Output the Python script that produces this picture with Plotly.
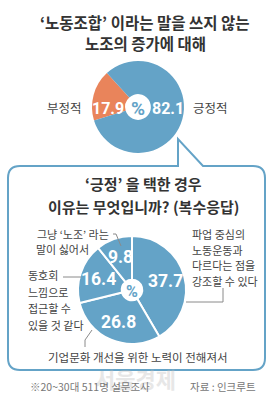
import math
import plotly.graph_objects as go

W, H = 273, 400

# ---------------- data ----------------
title_lines = ["‘노동조합’ 이라는 말을 쓰지 않는", "노조의 증가에 대해"]
top_labels = ["부정적", "긍정적"]
top_values = [17.9, 82.1]

sub_lines = ["‘긍정’ 을 택한 경우", "이유는 무엇입니까? (복수응답)"]
reason_values = [37.7, 26.8, 16.4, 9.8]
reason_lines = [
    ["파업 중심의", "노동운동과", "다르다는 점을", "강조할 수 있다"],
    ["기업문화 개선을 위한 노력이 전해져서"],
    ["동호회", "느낌으로", "접근할 수", "있을 것 같다"],
    ["그냥 ‘노조’ 라는", "말이 싫어서"],
]
note_text = "※20~30대 511명 설문조사"
source_text = "자료 : 인크루트"
watermark = "서울경제"

# ---------------- style ----------------
BLUE = "#64A3C7"
ORANGE = "#E9845B"
TXT = "#333333"
LBL = "#444444"
GRAY = "#8a8a8a"
KFONT = "Noto Sans CJK KR"
NUMFONT = "Roboto, sans-serif"

top_c, top_r = (138, 107), 46
bot_c, bot_r = (132, 290), 54
top_rot = 253
bot_rot = 0


def dom(c, r):
    cx, cy = c
    return dict(x=[(cx - r) / W, (cx + r) / W], y=[1 - (cy + r) / H, 1 - (cy - r) / H])


def mid_angles(values, rot):
    tot = sum(values)
    out, acc = [], 0.0
    for v in values:
        out.append(rot + (acc + v / 2) / tot * 360.0)
        acc += v
    return out


fig = go.Figure()

# invisible pixel-space axes for shapes/annotations
fig.add_trace(go.Scatter(x=[0, W], y=[0, H], mode="markers",
                         marker=dict(opacity=0), hoverinfo="skip", showlegend=False))

fig.add_trace(go.Pie(
    labels=top_labels, values=top_values, sort=False, direction="clockwise",
    rotation=top_rot, hole=0.28, domain=dom(top_c, top_r),
    marker=dict(colors=[ORANGE, BLUE], line=dict(color="white", width=0)),
    textinfo="none", showlegend=False, hoverinfo="skip"))

fig.add_trace(go.Pie(
    labels=["a", "b", "c", "d"], values=reason_values, sort=False, direction="clockwise",
    rotation=bot_rot, hole=0.19, domain=dom(bot_c, bot_r),
    marker=dict(colors=[BLUE] * 4, line=dict(color="white", width=2)),
    textinfo="none", showlegend=False, hoverinfo="skip"))

ann = []


def add_text(x, y, text, size, color=LBL, bold=False, xanchor="center", family=KFONT, opacity=1):
    ann.append(dict(x=x, y=y, xref="x", yref="y", text=text, showarrow=False,
                    xanchor=xanchor, yanchor="middle", opacity=opacity,
                    font=dict(family=family, size=size, color=color,
                              weight="bold" if bold else "normal")))


# value labels inside slices
for v, a in zip(top_values, mid_angles(top_values, top_rot)):
    side = 1 if math.sin(math.radians(a)) > 0 else -1
    add_text(top_c[0] + side * 30, top_c[1] + 1, f"{v}", 16, "white", True, family=NUMFONT)
for v, a in zip(reason_values, mid_angles(reason_values, bot_rot)):
    rr = 35
    x = bot_c[0] + rr * math.sin(math.radians(a))
    y = bot_c[1] - rr * math.cos(math.radians(a))
    add_text(x, y, f"{v}", 17.5, "white", True, family=NUMFONT)

# titles
add_text(145, 22, title_lines[0], 15.5, TXT, True)
add_text(145, 43, title_lines[1], 15.5, TXT, True)
add_text(143, 183, sub_lines[0], 15, TXT, True)
add_text(143, 206, sub_lines[1], 15, TXT, True)

# top outside labels
add_text(64, 107, top_labels[0], 12.5, LBL)
add_text(210, 107, top_labels[1], 12.5, LBL)

# % in holes
add_text(top_c[0], top_c[1] + 1, "%", 19, BLUE, True, family="Roboto, sans-serif")
add_text(bot_c[0], bot_c[1] + 1, "%", 16, BLUE, True, family="Roboto, sans-serif")

# bottom outside labels
for i, t in enumerate(reason_lines[0]):
    add_text(190, 234 + i * 15.7, t, 11, LBL, xanchor="left")
add_text(138, 357, reason_lines[1][0], 11.5, LBL)
for i, t in enumerate(reason_lines[2]):
    add_text(26, 275 + i * 16.7, t, 11, LBL, xanchor="left")
add_text(111, 234, reason_lines[3][0], 11, LBL, xanchor="right")
add_text(91, 249, reason_lines[3][1], 11, LBL, xanchor="right")

# footer
add_text(135, 378, watermark, 22, "#bbbbbb", True, opacity=0.35)
add_text(28, 386, note_text, 10.5, "#777777", xanchor="left")
add_text(258, 386, source_text, 10.5, "#777777", xanchor="right")

# callout box with pointer
L, R, T, B, rd = 8, 265, 166, 370, 12
px1, px2, apex = 178, 203, (178, 139)
box = (f"M {L+rd},{T} L {px1},{T} L {apex[0]},{apex[1]} L {px2},{T} L {R-rd},{T} "
       f"Q {R},{T} {R},{T+rd} L {R},{B-rd} Q {R},{B} {R-rd},{B} L {L+rd},{B} "
       f"Q {L},{B} {L},{B-rd} L {L},{T+rd} Q {L},{T} {L+rd},{T} Z")
shapes = [dict(type="path", path=box, xref="x", yref="y", layer="below",
               line=dict(color=BLUE, width=2), fillcolor="white")]

leaders = [
    "M 113,234 L 116,234 L 121,246",
    "M 63,277 L 81,277",
    "M 186,302 L 223,302 L 223,288",
    "M 92,330 L 85,340 L 85,347",
]
for p in leaders:
    shapes.append(dict(type="path", path=p, xref="x", yref="y", layer="above",
                       line=dict(color=GRAY, width=1)))

fig.update_layout(
    width=W, height=H, margin=dict(l=0, r=0, t=0, b=0),
    paper_bgcolor="white", plot_bgcolor="rgba(0,0,0,0)",
    xaxis=dict(range=[0, W], visible=False, fixedrange=True, domain=[0, 1]),
    yaxis=dict(range=[H, 0], visible=False, fixedrange=True, domain=[0, 1]),
    annotations=ann, shapes=shapes, showlegend=False,
)

fig.write_html("out.html", config={"displayModeBar": False})
